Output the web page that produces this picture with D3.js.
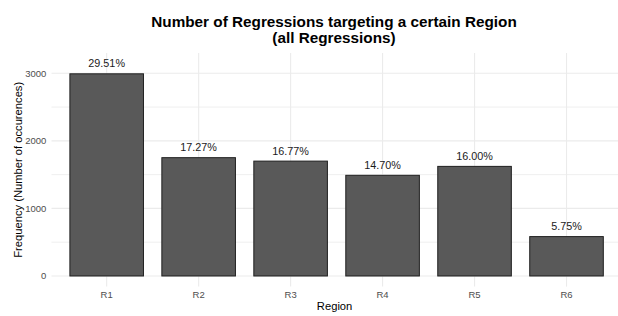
<!DOCTYPE html>
<html>
<head>
<meta charset="utf-8">
<script src="https://cdn.jsdelivr.net/npm/d3@7"></script>
<style>
  html, body { margin: 0; padding: 0; background: #fff; }
  svg { display: block; font-family: "Liberation Sans", Arial, sans-serif; }
</style>
</head>
<body>
<svg id="chart" width="618" height="316"></svg>
<script>
// ---- data ----
const regions = ["R1", "R2", "R3", "R4", "R5", "R6"];
const counts = [2992, 1751, 1700, 1490, 1622, 583];
const yTicks = [0, 1000, 2000, 3000];
const yMinorTicks = [500, 1500, 2500];
const titleLines = ["Number of Regressions targeting a certain Region", "(all Regressions)"];
const xTitle = "Region";
const yTitle = "Frequency (Number of occurences)";

const total = d3.sum(counts);
const data = regions.map((r, i) => ({ region: r, count: counts[i], pct: counts[i] / total * 100 }));

const svg = d3.select("#chart");
const W = 618, H = 316;
const panel = { left: 51.5, right: 621.7, top: 53, bottom: 286.6 };

// ggplot-style discrete scale: expansion 0.6 on each side, bar width 0.8 of step
const x = d3.scalePoint()
  .domain(regions)
  .range([panel.left, panel.right])
  .padding(0.6);
const step = x.step();
const bw = 0.8 * step;

const y = d3.scaleLinear().domain([-157, 3300]).range([panel.bottom, panel.top]);

const grid = svg.append("g");
grid.selectAll("line.minor").data(yMinorTicks).join("line")
  .attr("x1", panel.left).attr("x2", W)
  .attr("y1", d => y(d)).attr("y2", d => y(d))
  .attr("stroke", "#EBEBEB").attr("stroke-width", 0.8);
grid.selectAll("line.major").data(yTicks).join("line")
  .attr("x1", panel.left).attr("x2", W)
  .attr("y1", d => y(d)).attr("y2", d => y(d))
  .attr("stroke", "#EBEBEB").attr("stroke-width", 1.1);
grid.selectAll("line.vx").data(regions).join("line")
  .attr("x1", d => x(d)).attr("x2", d => x(d))
  .attr("y1", panel.top).attr("y2", panel.bottom)
  .attr("stroke", "#EBEBEB").attr("stroke-width", 1.1);

// bars
svg.append("g").selectAll("rect").data(data).join("rect")
  .attr("x", d => x(d.region) - bw / 2)
  .attr("width", bw)
  .attr("y", d => y(d.count))
  .attr("height", d => y(0) - y(d.count))
  .attr("fill", "#595959")
  .attr("stroke", "#1f1f1f")
  .attr("stroke-width", 1);

// percent labels
svg.append("g").selectAll("text").data(data).join("text")
  .attr("x", d => x(d.region))
  .attr("y", d => y(d.count) - 6.5)
  .attr("text-anchor", "middle")
  .attr("font-size", "10.8px")
  .attr("fill", "#1a1a1a")
  .text(d => d.pct.toFixed(2) + "%");

// y tick labels
svg.append("g").selectAll("text").data(yTicks).join("text")
  .attr("x", 46.3)
  .attr("y", d => y(d))
  .attr("dy", "0.35em")
  .attr("text-anchor", "end")
  .attr("font-size", "9.5px")
  .attr("fill", "#4D4D4D")
  .text(d => d);

// x tick labels
svg.append("g").selectAll("text").data(regions).join("text")
  .attr("x", d => x(d))
  .attr("y", 298.3)
  .attr("text-anchor", "middle")
  .attr("font-size", "9.5px")
  .attr("fill", "#4D4D4D")
  .text(d => d);

// axis titles
svg.append("text")
  .attr("x", (panel.left + 617.7) / 2)
  .attr("y", 310.3)
  .attr("text-anchor", "middle")
  .attr("font-size", "11.2px")
  .attr("fill", "#000")
  .text(xTitle);

svg.append("text")
  .attr("transform", `translate(21.5, ${(panel.top + panel.bottom) / 2}) rotate(-90)`)
  .attr("text-anchor", "middle")
  .attr("font-size", "11.2px")
  .attr("fill", "#000")
  .text(yTitle);

// title
svg.append("g").selectAll("text").data(titleLines).join("text")
  .attr("x", 334)
  .attr("y", (d, i) => 26.7 + i * 16.6)
  .attr("text-anchor", "middle")
  .attr("font-size", "15.3px")
  .attr("font-weight", "bold")
  .attr("fill", "#000")
  .text(d => d);
</script>
</body>
</html>
